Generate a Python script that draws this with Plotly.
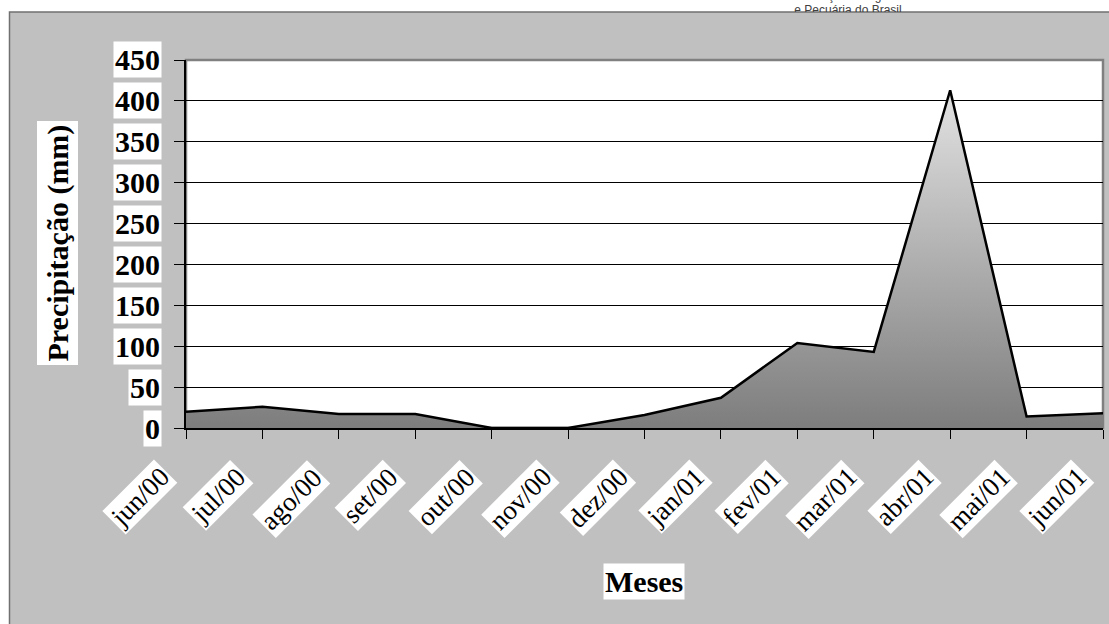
import plotly.graph_objects as go

W, H = 1109, 624

meses = ["jun/00", "jul/00", "ago/00", "set/00", "out/00", "nov/00", "dez/00",
         "jan/01", "fev/01", "mar/01", "abr/01", "mai/01", "jun/01"]
precip = [20, 26, 17, 17, 0, 0, 16, 37, 104, 93, 413, 14, 18]
y_ticks = [0, 50, 100, 150, 200, 250, 300, 350, 400, 450]

SERIF = "Liberation Serif, Times New Roman, serif"

def px(x):
    return x / W

def py(y):
    return 1 - y / H

fig = go.Figure()

fig.add_trace(go.Scatter(
    x=list(range(len(meses))), y=precip, mode="lines",
    line=dict(color="black", width=2.5),
    fill="tozeroy",
    fillgradient=dict(type="vertical",
                      colorscale=[[0, "#7d7d7d"], [1, "#e2e2e2"]]),
    hoverinfo="skip", showlegend=False,
))

# header text (clipped by top strip subplot)
fig.add_trace(go.Scatter(
    x=[848, 848], y=[624 + 3, 624 - 11], mode="text",
    text=["Confederação da Agricultura", "e Pecuária do Brasil"],
    textfont=dict(family="Liberation Sans, Arial", size=12, color="#404040"),
    xaxis="x2", yaxis="y2", cliponaxis=True, showlegend=False, hoverinfo="skip",
))

shapes = [
    dict(type="rect", xref="paper", yref="paper", layer="below",
         x0=px(9.5), x1=1.02, y0=-0.02, y1=py(12),
         fillcolor="#c0c0c0", line=dict(color="#707070", width=1.5)),
    dict(type="rect", xref="paper", yref="paper", layer="below",
         x0=px(186), x1=px(1103), y0=py(428), y1=py(60),
         fillcolor="white", line=dict(color="#808080", width=2.5)),
]

annotations = []
for v in y_ticks:
    annotations.append(dict(
        xref="paper", yref="y", x=px(162), y=v, xanchor="right", yanchor="middle",
        text=str(v), showarrow=False, bgcolor="white", borderpad=1,
        font=dict(family=SERIF, size=30, color="black", weight="bold"),
    ))
for i, m in enumerate(meses):
    annotations.append(dict(
        xref="x", yref="paper", x=i, y=py(459), xanchor="right", yanchor="top",
        xshift=-8, text=m, showarrow=False, bgcolor="white", borderpad=1,
        textangle=-45,
        font=dict(family=SERIF, size=27, color="black"),
    ))
annotations.append(dict(
    xref="paper", yref="paper", x=px(644), y=py(581), xanchor="center", yanchor="middle",
    text="Meses", showarrow=False, bgcolor="white", borderpad=1,
    font=dict(family=SERIF, size=30, color="black", weight="bold"),
))
annotations.append(dict(
    xref="paper", yref="paper", x=px(57.5), y=py(243), xanchor="center", yanchor="middle",
    text="Precipitação (mm)", showarrow=False, bgcolor="white", borderpad=3,
    textangle=-90,
    font=dict(family=SERIF, size=30, color="black", weight="bold"),
))

fig.update_layout(
    width=W, height=H,
    margin=dict(l=0, r=0, t=0, b=0, pad=0),
    paper_bgcolor="white", plot_bgcolor="white",
    shapes=shapes, annotations=annotations,
    xaxis=dict(domain=[px(186), px(1103)], range=[0, len(meses) - 1],
               tickvals=list(range(len(meses))), ticktext=[""] * len(meses),
               showticklabels=False, ticks="outside", ticklen=9, tickcolor="black",
               tickwidth=1, showgrid=False, zeroline=False,
               showline=True, linecolor="black", linewidth=2, fixedrange=True),
    yaxis=dict(domain=[py(428), py(60)], range=[0, 450], tickvals=y_ticks,
               showticklabels=False, ticks="outside", ticklen=10, tickcolor="black",
               tickwidth=1, showgrid=True, gridcolor="black", gridwidth=1,
               zeroline=False, showline=True, linecolor="black", linewidth=1.5,
               fixedrange=True),
    xaxis2=dict(domain=[0, 1], range=[0, W], visible=False, anchor="y2", fixedrange=True),
    yaxis2=dict(domain=[py(12), 1], range=[H - 12, H], visible=False, anchor="x2",
                fixedrange=True),
)

fig.write_html(
    "out.html",
    config={"displayModeBar": False},
    post_script="document.body.style.margin='0';document.body.style.overflow='hidden';",
)
